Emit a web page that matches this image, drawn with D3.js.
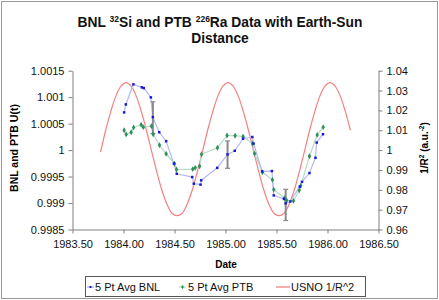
<!DOCTYPE html>
<html><head><meta charset="utf-8">
<script src="https://cdn.jsdelivr.net/npm/d3@7/dist/d3.min.js"></script>
<style>
body{margin:0;background:#fff;}
svg text{font-family:"Liberation Sans",Arial,sans-serif;}
</style></head>
<body><svg id="c" width="439" height="300"></svg>
<script>
// ---- data ----
const bnlDates = [1984.006,1984.023,1984.097,1984.180,1984.199,1984.268,1984.288,1984.350,1984.418,1984.494,1984.522,1984.674,1984.689,1984.755,1984.762,1984.919,1985.020,1985.091,1985.172,1985.263,1985.275,1985.359,1985.455,1985.473,1985.573,1985.590,1985.636,1985.728,1985.750,1985.823,1985.882,1985.894,1985.956];
const bnlValues = [1.000712,1.000863,1.001242,1.001185,1.001172,1.000996,1.000623,1.000338,1.000168,0.999745,0.999552,0.999491,0.999366,0.999347,0.999429,0.999665,0.999918,0.999988,1.000215,1.000247,1.000124,0.999600,0.999604,0.999144,0.999078,0.998993,0.999030,0.999311,0.999400,0.999567,0.999855,1.000143,1.000300];
const ptbDates = [1984.006,1984.026,1984.075,1984.099,1984.173,1984.195,1984.274,1984.291,1984.353,1984.418,1984.500,1984.520,1984.679,1984.703,1984.746,1984.765,1984.921,1985.015,1985.094,1985.172,1985.265,1985.285,1985.362,1985.460,1985.473,1985.578,1985.600,1985.666,1985.723,1985.738,1985.823,1985.899,1985.958];
const ptbValues = [1.000376,1.000297,1.000338,1.000427,1.000480,1.000433,1.000452,1.000300,1.000092,0.999931,0.999745,0.999633,0.999641,0.999665,0.999694,0.999921,1.000045,1.000276,1.000272,1.000257,1.000124,0.999934,0.999580,0.999438,0.999254,0.999093,0.999050,0.999040,0.999240,0.999325,0.999883,1.000287,1.000433];
const errDates = [1984.288,1985.020,1985.590];
const errLow = [1.000314,0.999656,0.998670];
const errHigh = [1.000913,1.000173,0.999258];
const usnoDates = [1983.775,1983.825,1983.875,1983.925,1983.975,1984.025,1984.075,1984.125,1984.175,1984.225,1984.275,1984.325,1984.375,1984.425,1984.475,1984.525,1984.575,1984.625,1984.675,1984.725,1984.775,1984.825,1984.875,1984.925,1984.975,1985.025,1985.075,1985.125,1985.175,1985.225,1985.275,1985.325,1985.375,1985.425,1985.475,1985.525,1985.575,1985.625,1985.675,1985.725,1985.775,1985.825,1985.875,1985.925,1985.975,1986.025,1986.075,1986.125,1986.175,1986.225];
const usnoValues = [0.9990,1.0100,1.0194,1.0272,1.0322,1.0340,1.0322,1.0272,1.0194,1.0100,0.9995,0.9893,0.9800,0.9728,0.9682,0.9670,0.9682,0.9728,0.9800,0.9893,0.9995,1.0100,1.0194,1.0272,1.0322,1.0340,1.0322,1.0272,1.0194,1.0100,0.9995,0.9893,0.9800,0.9728,0.9682,0.9670,0.9682,0.9728,0.9800,0.9893,0.9995,1.0100,1.0194,1.0272,1.0322,1.0340,1.0322,1.0272,1.0194,1.0100];
const xTicks = [1983.5,1984.0,1984.5,1985.0,1985.5,1986.0,1986.5];
const xTickLabels = ["1983.50","1984.00","1984.50","1985.00","1985.50","1986.00","1986.50"];
const yLTicks = [0.9985,0.999,0.9995,1,1.0005,1.001,1.0015];
const yLTickLabels = ["0.9985","0.999","0.9995","1","1.0005","1.001","1.0015"];
const yRTicks = [0.96,0.97,0.98,0.99,1.00,1.01,1.02,1.03,1.04];
const yRTickLabels = ["0.96","0.97","0.98","0.99","1","1.01","1.02","1.03","1.04"];
const seriesNames = ["5 Pt Avg BNL","5 Pt Avg PTB","USNO 1/R^2"];

// ---- layout ----
const svg = d3.select("#c");
const L = 72.5, R = 378.5, T = 70.7, B = 229.5;
const x = d3.scaleLinear([1983.5,1986.5],[L,R]);
const yL = d3.scaleLinear([0.9985,1.0015],[B,T]);
const yR = d3.scaleLinear([0.96,1.04],[B,T]);

svg.append("rect").attr("x",1.5).attr("y",1.5).attr("width",436).attr("height",297)
  .attr("fill","#fff").attr("stroke","#9a9a9a").attr("stroke-width",1);

// title
const title = svg.append("text").attr("text-anchor","middle").attr("font-size",13.8).attr("font-weight","bold").attr("fill","#111");
const t1 = title.append("tspan").attr("x",220).attr("y",27);
t1.append("tspan").text("BNL ");
t1.append("tspan").attr("font-size",8.5).attr("dy",-5.5).text("32");
t1.append("tspan").attr("dy",5.5).text("Si and PTB ");
t1.append("tspan").attr("font-size",8.5).attr("dy",-5.5).text("226");
t1.append("tspan").attr("dy",5.5).text("Ra Data with Earth-Sun");
title.append("tspan").attr("x",220).attr("y",43).text("Distance");

// axes
function styleAxis(g){
  g.selectAll("path,line").attr("stroke","#808080");
  g.selectAll("text").attr("font-size",11).attr("fill","#111").attr("font-family","Liberation Sans,Arial,sans-serif");
}
svg.append("g").attr("transform",`translate(0,${B})`)
  .call(d3.axisBottom(x).tickValues(xTicks).tickFormat((d,i)=>xTickLabels[i]).tickSize(4).tickSizeOuter(0).tickPadding(7))
  .call(styleAxis);
svg.append("g").attr("transform",`translate(${L},0)`)
  .call(d3.axisLeft(yL).tickValues(yLTicks).tickFormat((d,i)=>yLTickLabels[i]).tickSize(4).tickSizeOuter(0).tickPadding(4))
  .call(styleAxis);
svg.append("g").attr("transform",`translate(${R},0)`)
  .call(d3.axisRight(yR).tickValues(yRTicks).tickFormat((d,i)=>yRTickLabels[i]).tickSize(4).tickSizeOuter(0).tickPadding(4))
  .call(styleAxis);

// axis titles
svg.append("text").attr("x",226).attr("y",268).attr("text-anchor","middle").attr("font-size",10).attr("font-weight","bold").text("Date");
svg.append("text").attr("transform","translate(18,148) rotate(-90)").attr("text-anchor","middle").attr("font-size",10.5).attr("font-weight","bold").text("BNL and PTB U(t)");
const rt = svg.append("text").attr("transform","translate(428,148) rotate(-90)").attr("text-anchor","middle").attr("font-size",10).attr("font-weight","bold");
rt.append("tspan").text("1/R");
rt.append("tspan").attr("font-size",6.5).attr("dy",-4).text("2");
rt.append("tspan").attr("dy",4).text(" (a.u.");
rt.append("tspan").attr("font-size",6.5).attr("dy",-4).text("-2");
rt.append("tspan").attr("dy",4).text(")");

// USNO line
const usno = usnoDates.map((d,i)=>[d,usnoValues[i]]);
svg.append("path").datum(usno).attr("fill","none").attr("stroke","#f58080").attr("stroke-width",1.2)
  .attr("d",d3.line().x(d=>x(d[0])).y(d=>yR(d[1])).curve(d3.curveCatmullRom));

// PTB
const ptb = ptbDates.map((d,i)=>[d,ptbValues[i]]);
svg.append("path").datum(ptb).attr("fill","none").attr("stroke","#b3dcc4").attr("stroke-width",1.2)
  .attr("d",d3.line().x(d=>x(d[0])).y(d=>yL(d[1])));
// BNL
const bnl = bnlDates.map((d,i)=>[d,bnlValues[i]]);
svg.append("path").datum(bnl).attr("fill","none").attr("stroke","#b4b8f4").attr("stroke-width",1.2)
  .attr("d",d3.line().x(d=>x(d[0])).y(d=>yL(d[1])));

// error bars
const eb = svg.append("g").attr("stroke","#8a8a8a").attr("stroke-width",2);
errDates.forEach((d,i)=>{
  eb.append("line").attr("x1",x(d)).attr("x2",x(d)).attr("y1",yL(errLow[i])).attr("y2",yL(errHigh[i]));
  eb.append("line").attr("stroke-width",1.2).attr("x1",x(d)-2.5).attr("x2",x(d)+2.5).attr("y1",yL(errLow[i])).attr("y2",yL(errLow[i]));
  eb.append("line").attr("stroke-width",1.2).attr("x1",x(d)-2.5).attr("x2",x(d)+2.5).attr("y1",yL(errHigh[i])).attr("y2",yL(errHigh[i]));
});

// markers
svg.append("g").selectAll("path").data(ptb).join("path")
  .attr("transform",d=>`translate(${x(d[0])},${yL(d[1])})`)
  .attr("d",d3.symbol(d3.symbolDiamond,10)).attr("fill","#2f8f5a");
svg.append("g").selectAll("rect").data(bnl).join("rect")
  .attr("x",d=>x(d[0])-1.25).attr("y",d=>yL(d[1])-1.25).attr("width",2.5).attr("height",2.5).attr("fill","#1a1ad6");

// legend
const lg = svg.append("g");
lg.append("rect").attr("x",85.5).attr("y",276.5).attr("width",280).attr("height",20).attr("fill","#fff").attr("stroke","#555").attr("stroke-width",1);
const items = [
  {x:87, tx:95, line:"#b4b8f4", mk:"sq"},
  {x:179, tx:188, line:"#b3dcc4", mk:"dm"},
  {x:276, tx:291, line:"#f58080", mk:null}
];
items.forEach((it,i)=>{
  const w = it.mk ? 7 : 14;
  lg.append("line").attr("x1",it.x).attr("x2",it.x+w).attr("y1",287).attr("y2",287).attr("stroke",it.line).attr("stroke-width",1.3);
  if(it.mk==="sq") lg.append("rect").attr("x",it.x+w/2-1).attr("y",286).attr("width",2).attr("height",2).attr("fill","#1a1ad6");
  if(it.mk==="dm") lg.append("path").attr("transform",`translate(${it.x+w/2},287)`).attr("d",d3.symbol(d3.symbolDiamond,6)).attr("fill","#2f8f5a");
  lg.append("text").attr("x",it.tx).attr("y",291).attr("font-size",11).attr("fill","#111").text(seriesNames[i]);
});
</script></body></html>
